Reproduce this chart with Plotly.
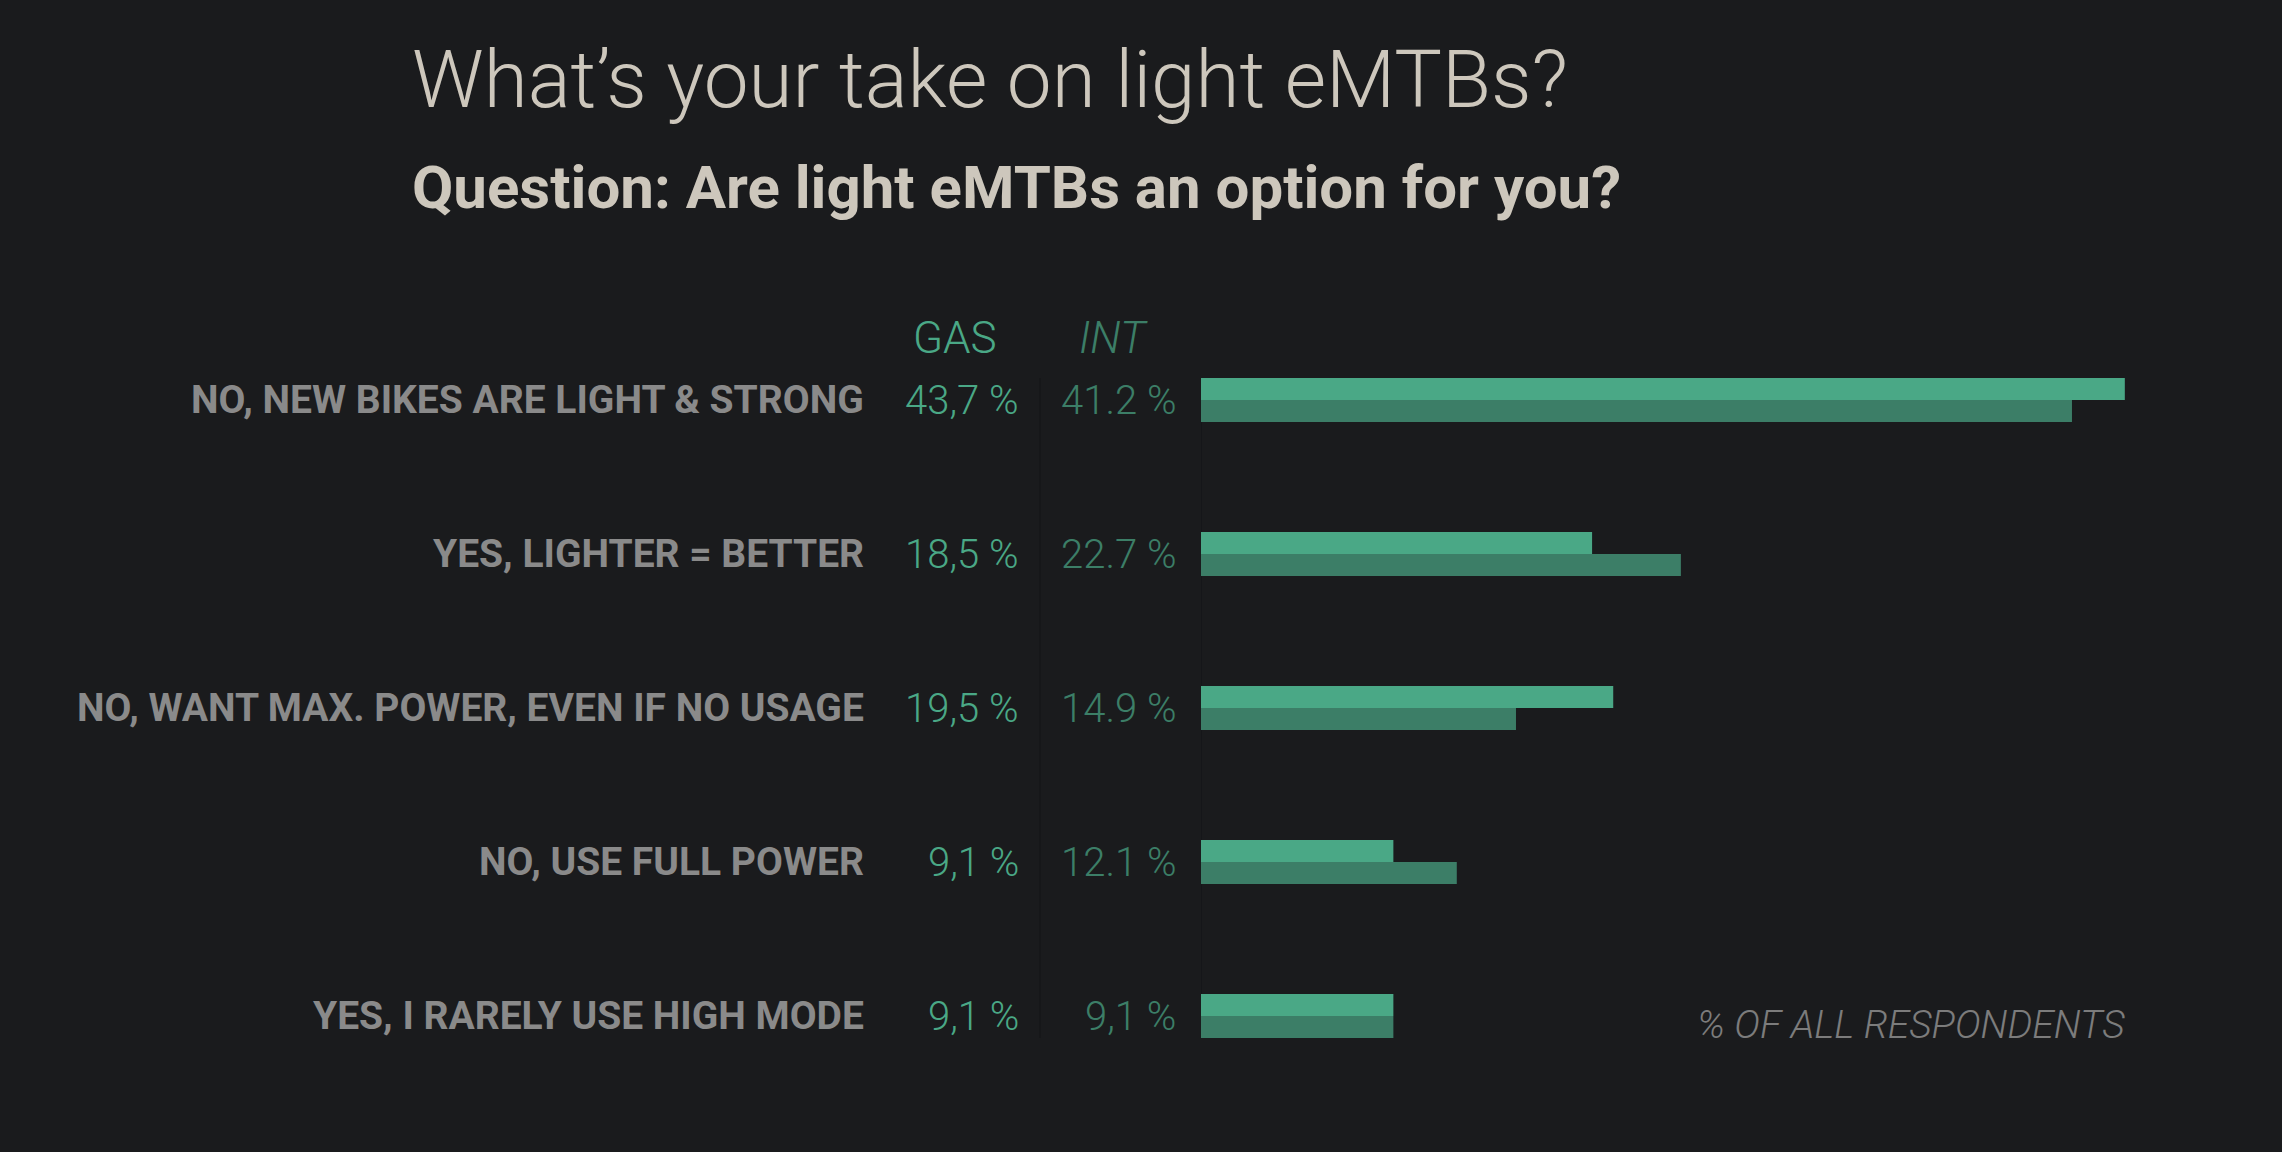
import plotly.graph_objects as go

# ---------------- data ----------------
categories = [
    "NO, NEW BIKES ARE LIGHT & STRONG",
    "YES, LIGHTER = BETTER",
    "NO, WANT MAX. POWER, EVEN IF NO USAGE",
    "NO, USE FULL POWER",
    "YES, I RARELY USE HIGH MODE",
]
gas_values = [43.7, 18.5, 19.5, 9.1, 9.1]
int_values = [41.2, 22.7, 14.9, 12.1, 9.1]
gas_text = ["43,7 %", "18,5 %", "19,5 %", "9,1 %", "9,1 %"]
int_text = ["41.2 %", "22.7 %", "14.9 %", "12.1 %", "9,1 %"]
series_names = ["GAS", "INT"]
title_text = "What’s your take on light eMTBs?"
subtitle_text = "Question: Are light eMTBs an option for you?"
footer_text = "% OF ALL RESPONDENTS"

# ---------------- style ----------------
W, H = 2282, 1152
BG = "#1a1b1d"
GAS_C = "#4aa886"
INT_C = "#3c7e67"
TITLE_C = "#cdc7bc"
LABEL_C = "#8a8a8a"
LABEL_FONT = "Roboto, sans-serif"
VALUE_FONT = "Roboto, Lato, sans-serif"


def px_x(p):
    return p / W


def px_y(p):
    return 1 - p / H


fig = go.Figure()
fig.add_trace(go.Bar(
    y=categories, x=gas_values, orientation="h", name=series_names[0],
    marker=dict(color=GAS_C, line=dict(width=0)), hoverinfo="x+y",
))
fig.add_trace(go.Bar(
    y=categories, x=int_values, orientation="h", name=series_names[1],
    marker=dict(color=INT_C, line=dict(width=0)), hoverinfo="x+y",
))

annotations = []
for cat, gt, it in zip(categories, gas_text, int_text):
    annotations.append(dict(
        x=px_x(866), y=cat, xref="paper", yref="y", xanchor="right", yanchor="middle",
        text=cat, showarrow=False,
        font=dict(family=LABEL_FONT, size=39, color=LABEL_C, weight="bold"),
    ))
    annotations.append(dict(
        x=px_x(1021), y=cat, xref="paper", yref="y", xanchor="right", yanchor="middle",
        text=gt, showarrow=False,
        font=dict(family=VALUE_FONT, size=40, color=GAS_C, weight=300),
    ))
    annotations.append(dict(
        x=px_x(1178), y=cat, xref="paper", yref="y", xanchor="right", yanchor="middle",
        text=it, showarrow=False,
        font=dict(family=VALUE_FONT, size=40, color=INT_C, weight=300),
    ))

# column headers
annotations.append(dict(
    x=px_x(955), y=px_y(338), xref="paper", yref="paper", xanchor="center", yanchor="middle",
    text=series_names[0], showarrow=False,
    font=dict(family=VALUE_FONT, size=44, color=GAS_C, weight=300),
))
annotations.append(dict(
    x=px_x(1113), y=px_y(338), xref="paper", yref="paper", xanchor="center", yanchor="middle",
    text=series_names[1], showarrow=False,
    font=dict(family=VALUE_FONT, size=44, color=INT_C, weight=300, style="italic"),
))
# footer
annotations.append(dict(
    x=px_x(2127), y=px_y(1025), xref="paper", yref="paper", xanchor="right", yanchor="middle",
    text=footer_text, showarrow=False,
    font=dict(family=VALUE_FONT, size=39, color="#7c7c7c", weight=300, style="italic"),
))
# titles
annotations.append(dict(
    x=px_x(410), y=px_y(80), xref="paper", yref="paper", xanchor="left", yanchor="middle",
    text=title_text, showarrow=False,
    font=dict(family="Roboto, sans-serif", size=80, color=TITLE_C, weight=300),
))
annotations.append(dict(
    x=px_x(410), y=px_y(188), xref="paper", yref="paper", xanchor="left", yanchor="middle",
    text=subtitle_text, showarrow=False,
    font=dict(family="Roboto, sans-serif", size=60, color=TITLE_C, weight="bold"),
))

group_half = 0.143
shapes = [
    dict(type="line", xref="paper", yref="y", x0=px_x(1040), x1=px_x(1040),
         y0=-group_half, y1=len(categories) - 1 + group_half,
         line=dict(color="#161719", width=1.5), layer="below"),
    dict(type="line", xref="x", yref="y", x0=0, x1=0,
         y0=-group_half, y1=len(categories) - 1 + group_half,
         line=dict(color="#151618", width=1.5), layer="below"),
]

fig.update_layout(
    width=W, height=H,
    paper_bgcolor=BG, plot_bgcolor=BG,
    margin=dict(l=0, r=0, t=0, b=0),
    barmode="group", bargap=0.714, bargroupgap=0,
    showlegend=False,
    annotations=annotations,
    shapes=shapes,
    xaxis=dict(domain=[px_x(1201), px_x(2258)], range=[0, 50], visible=False,
               showgrid=False, zeroline=False, fixedrange=True),
    yaxis=dict(domain=[px_y(1093), px_y(323)], type="category",
               categoryorder="array", categoryarray=categories,
               autorange="reversed", visible=False, showgrid=False, zeroline=False),
)

fig.write_html("out.html")
